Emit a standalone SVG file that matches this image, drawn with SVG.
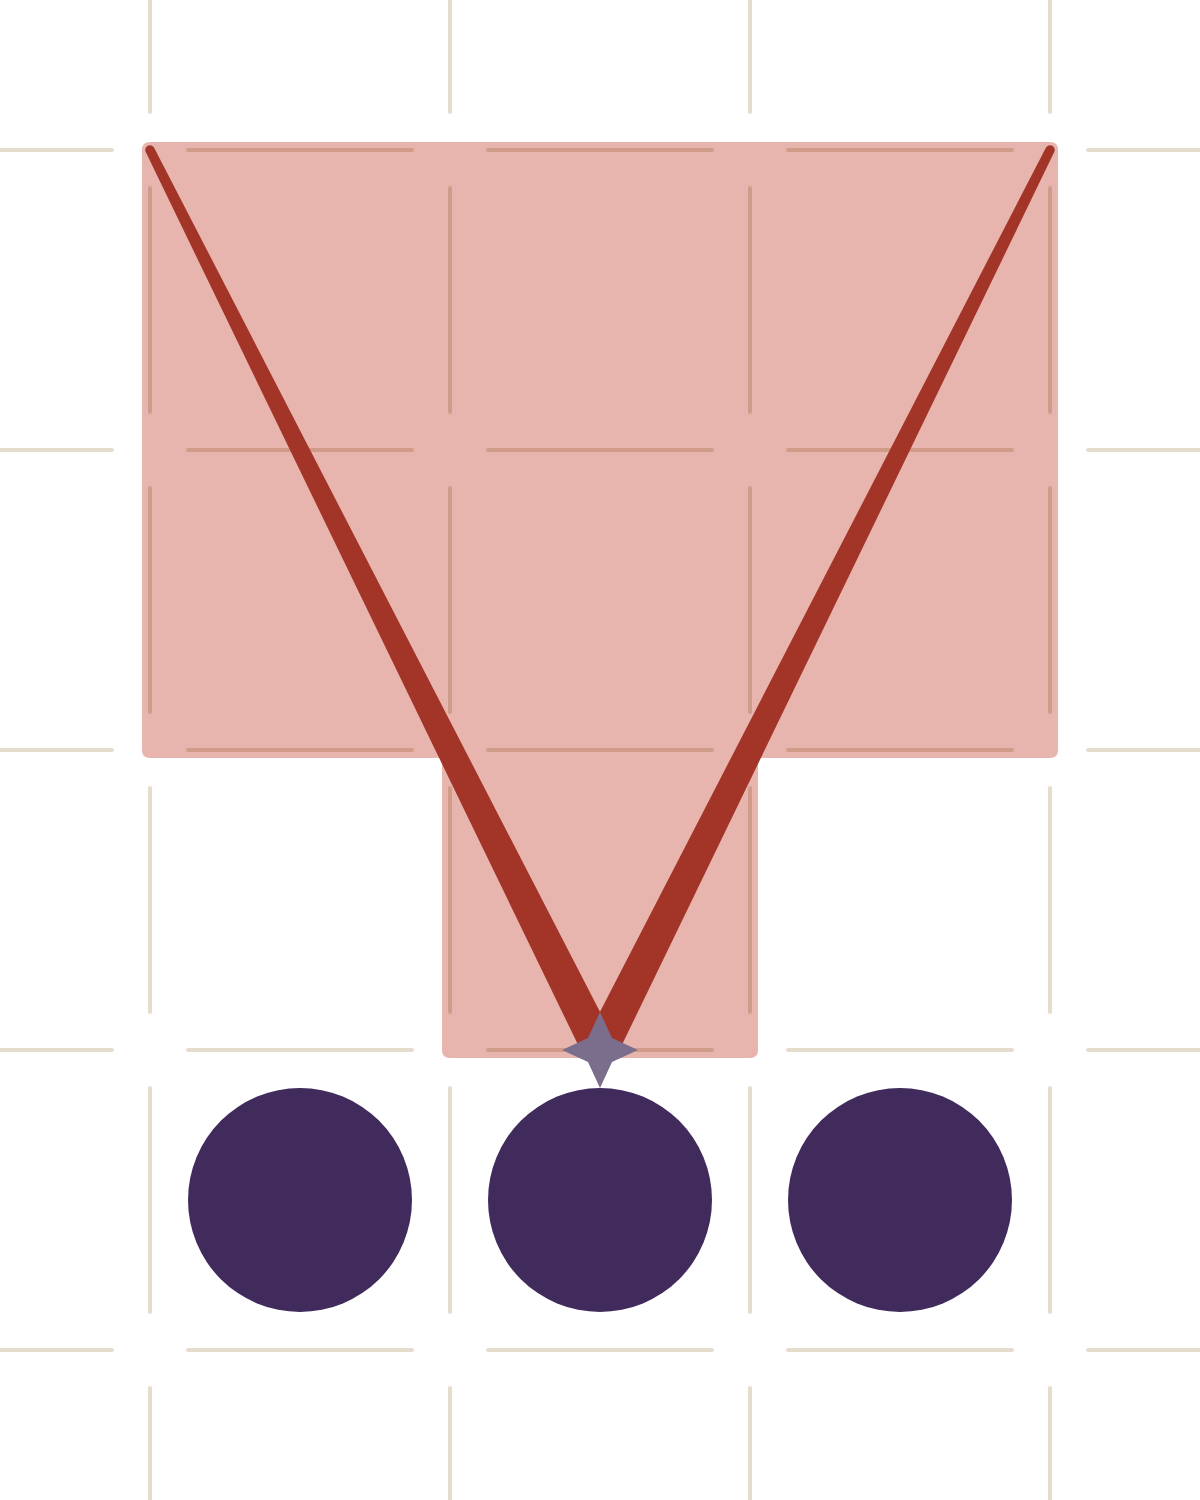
<svg xmlns="http://www.w3.org/2000/svg" width="1200" height="1500" viewBox="0 0 1200 1500">
<style>
.grid{stroke:#e6dccb;stroke-width:4;stroke-linecap:round;fill:none;mix-blend-mode:multiply}
.zone{fill:#e8b4ae}
.wedge{fill:#a33428}
.star{fill:#7b6d8c}
.dot{fill:#412b5c}
</style>
<rect width="1200" height="1500" fill="#ffffff"/>
<g id="zone">
<path class="zone" d="M150,142 H1050 Q1058,142 1058,150 V750 Q1058,758 1050,758 H758 V1050 Q758,1058 750,1058 H450 Q442,1058 442,1050 V758 H150 Q142,758 142,750 V150 Q142,142 150,142 Z"/>
</g>
<g id="grid">
<path class="grid" d="M150,-38V112M150,188V412M150,488V712M150,788V1012M150,1088V1312M150,1388V1538
M450,-38V112M450,188V412M450,488V712M450,788V1012M450,1088V1312M450,1388V1538
M750,-38V112M750,188V412M750,488V712M750,788V1012M750,1088V1312M750,1388V1538
M1050,-38V112M1050,188V412M1050,488V712M1050,788V1012M1050,1088V1312M1050,1388V1538
M-38,150H112M188,150H412M488,150H712M788,150H1012M1088,150H1238
M-38,450H112M188,450H412M488,450H712M788,450H1012M1088,450H1238
M-38,750H112M188,750H412M488,750H712M788,750H1012M1088,750H1238
M-38,1050H112M188,1050H412M488,1050H712M788,1050H1012M1088,1050H1238
M-38,1350H112M188,1350H412M488,1350H712M788,1350H1012M1088,1350H1238"/>
</g>
<g id="connectors">
<path class="wedge" d="M145.75,152.12 L584.35,1057.83 L615.65,1042.17 L154.25,147.88 A4.75,4.75 0 0 0 145.75,152.12 Z"/>
<path class="wedge" d="M1054.25,152.12 L615.65,1057.83 L584.35,1042.17 L1045.75,147.88 A4.75,4.75 0 0 1 1054.25,152.12 Z"/>
</g>
<g id="star">
<path class="star" d="M600,1012 L612,1038 L638,1050 L612,1062 L600,1088 L588,1062 L562,1050 L588,1038 Z"/>
</g>
<g id="node-1"><circle class="dot" cx="300" cy="1200" r="112"/></g>
<g id="node-2"><circle class="dot" cx="600" cy="1200" r="112"/></g>
<g id="node-3"><circle class="dot" cx="900" cy="1200" r="112"/></g>
</svg>
